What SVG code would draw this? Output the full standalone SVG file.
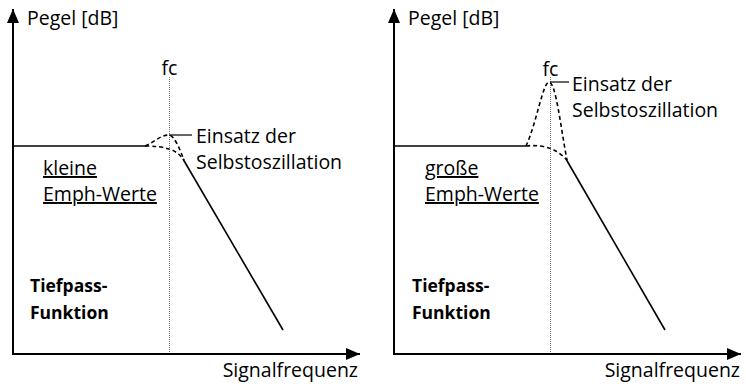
<svg xmlns="http://www.w3.org/2000/svg" width="746" height="384" viewBox="0 0 746 384">
  <style>
    .axis { stroke: #000; stroke-width: 2; fill: none; }
    .solid { stroke: #000; stroke-width: 1.6; fill: none; }
    .dash { stroke: #000; stroke-width: 1.6; fill: none; stroke-dasharray: 4 3; }
    .fc { stroke: #777; stroke-width: 1; fill: none; stroke-dasharray: 1 1; }
    .lead { stroke: #000; stroke-width: 1.2; fill: none; }
    text { font-family: "Open Sans", "Noto Sans", "DejaVu Sans", sans-serif; font-size: 19.5px; fill: #000; }
    .b { font-weight: bold; font-size: 17.5px; }
    .u { text-decoration: underline; }
  </style>
  <defs>
    <marker id="tip" viewBox="0 0 14 12" refX="14" refY="6" markerWidth="14" markerHeight="12" markerUnits="userSpaceOnUse" orient="auto">
      <path d="M0,0 L14,6 L0,12 Z" fill="#000"/>
    </marker>
  </defs>

  <!-- low-pass response, small emphasis values -->
  <g id="panel-left">
    <g id="left-axes">
      <line class="axis" x1="13" y1="355" x2="13" y2="9" marker-end="url(#tip)"/>
      <line class="axis" x1="12" y1="354" x2="360" y2="354" marker-end="url(#tip)"/>
      <text x="27" y="25">Pegel [dB]</text>
      <text x="358" y="377" text-anchor="end">Signalfrequenz</text>
    </g>
    <g id="left-fc">
      <line class="fc" x1="169.5" y1="77" x2="169.5" y2="353"/>
      <text x="169.5" y="75" text-anchor="middle">fc</text>
    </g>
    <g id="left-curve">
      <line class="solid" x1="13" y1="146" x2="145" y2="146"/>
      <path class="dash" d="M145,146 C155,142 160,135 169,135 C175,136 180,150 184,160"/>
      <path class="dash" d="M145,146 C155,146 163,147 169,149 C176,151 180,155 184,160"/>
      <line class="solid" x1="183" y1="159" x2="283" y2="330"/>
    </g>
    <g id="left-label">
      <line class="lead" x1="169" y1="135" x2="192" y2="135"/>
      <text x="196" y="143">Einsatz der</text>
      <text x="196" y="169">Selbstoszillation</text>
    </g>
    <g id="left-emph">
      <text class="u" x="43" y="175">kleine</text>
      <text class="u" x="43" y="201">Emph-Werte</text>
    </g>
    <g id="left-title">
      <text class="b" x="30" y="292">Tiefpass-</text>
      <text class="b" x="30" y="319">Funktion</text>
    </g>
  </g>

  <!-- low-pass response, large emphasis values -->
  <g id="panel-right">
    <g id="right-axes">
      <line class="axis" x1="394" y1="355" x2="394" y2="9" marker-end="url(#tip)"/>
      <line class="axis" x1="393" y1="354" x2="741" y2="354" marker-end="url(#tip)"/>
      <text x="408" y="25">Pegel [dB]</text>
      <text x="740" y="377" text-anchor="end">Signalfrequenz</text>
    </g>
    <g id="right-fc">
      <line class="fc" x1="550.5" y1="77" x2="550.5" y2="353"/>
      <text x="550.5" y="76" text-anchor="middle">fc</text>
    </g>
    <g id="right-curve">
      <line class="solid" x1="394" y1="146" x2="526" y2="146"/>
      <path class="dash" d="M526,146 C536,125 543,82 549,82 C556,82 561,130 567,160"/>
      <path class="dash" d="M526,146 C535,145 543,146 549,148 C556,150 562,155 567,160"/>
      <line class="solid" x1="566" y1="159" x2="665" y2="330"/>
    </g>
    <g id="right-label">
      <line class="lead" x1="550" y1="82" x2="569" y2="82"/>
      <text x="572" y="91">Einsatz der</text>
      <text x="572" y="117">Selbstoszillation</text>
    </g>
    <g id="right-emph">
      <text class="u" x="425" y="175">große</text>
      <text class="u" x="425" y="201">Emph-Werte</text>
    </g>
    <g id="right-title">
      <text class="b" x="412" y="292">Tiefpass-</text>
      <text class="b" x="412" y="319">Funktion</text>
    </g>
  </g>
</svg>
